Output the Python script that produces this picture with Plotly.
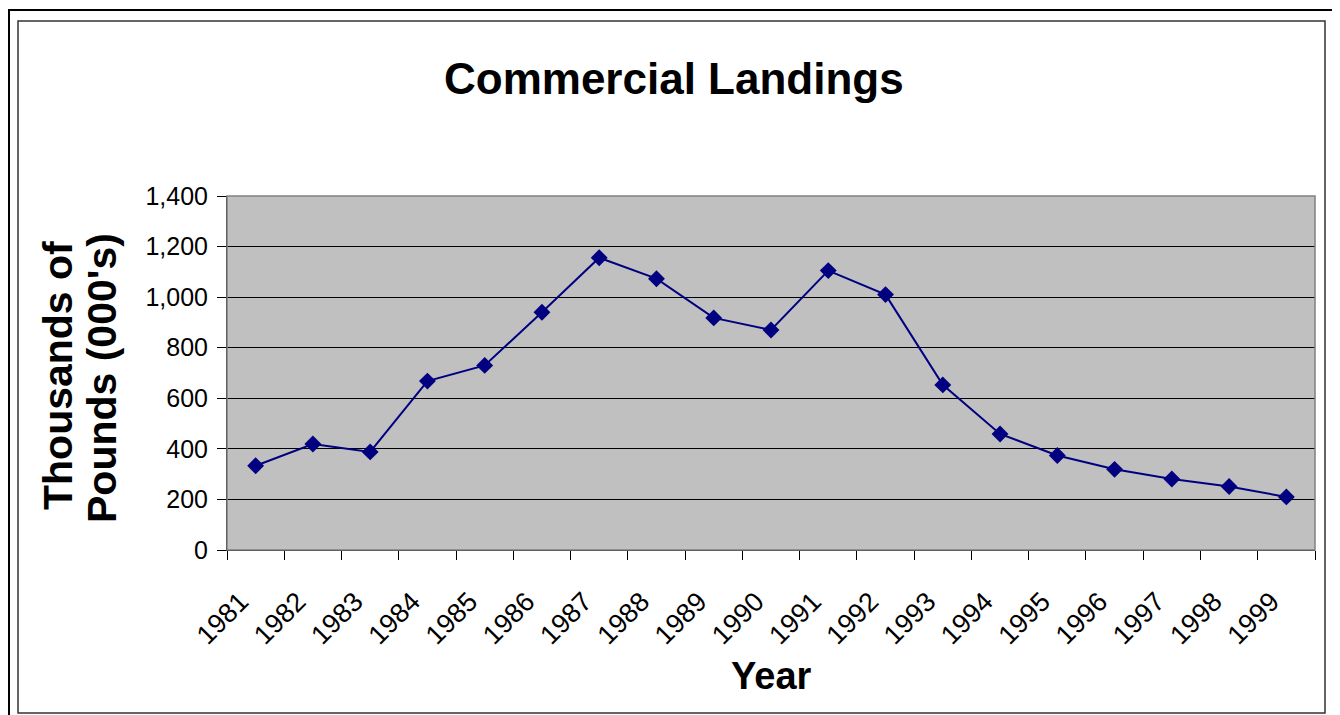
import plotly.graph_objects as go

years = [str(y) for y in range(1981, 2000)]
landings = [333, 419, 388, 668, 730, 940, 1156, 1073, 918, 870,
            1105, 1010, 653, 459, 374, 319, 281, 251, 210]
y_ticks = [0, 200, 400, 600, 800, 1000, 1200, 1400]
y_ticktext = ["0", "200", "400", "600", "800", "1,000", "1,200", "1,400"]

OFF = 8  # page body margin in the browser
W, H = 1340 - OFF, 715 - OFF
PL, PR, PT, PB = 227 - OFF, 1315 - OFF, 196 - OFF, 550 - OFF  # plot area in figure pixels


def px(x):
    """screen x pixel -> paper coordinate"""
    return (x - OFF - PL) / (PR - PL)


def py(y):
    """screen y pixel -> paper coordinate"""
    return (PB - (y - OFF)) / (PB - PT)


FONT = "Arial, Liberation Sans, sans-serif"

fig = go.Figure()
fig.add_trace(go.Scatter(
    x=years, y=landings, mode="lines+markers",
    line=dict(color="#000080", width=2),
    marker=dict(symbol="diamond", size=13, color="#000080"),
    showlegend=False, hoverinfo="x+y",
))

fig.update_layout(
    width=W, height=H,
    margin=dict(l=PL, r=W - PR, t=PT, b=H - PB, autoexpand=False),
    paper_bgcolor="white",
    plot_bgcolor="#C0C0C0",
    font=dict(family=FONT, color="black"),
    xaxis=dict(
        type="category", tickson="boundaries", ticks="outside", ticklen=9,
        tickcolor="black", tickwidth=1, tickangle=-45,
        tickfont=dict(size=27, family=FONT),
        showline=True, linecolor="black", linewidth=1,
        showgrid=False, zeroline=False,
        range=[-0.5, len(years) - 0.5],
        ticklabelstandoff=24, ticklabelshift=-15,
    ),
    yaxis=dict(
        range=[0, 1400], tickvals=y_ticks, ticktext=y_ticktext,
        ticks="outside", ticklen=9, tickcolor="black", tickwidth=1,
        tickfont=dict(size=25, family=FONT),
        showline=True, linecolor="black", linewidth=1,
        showgrid=True, gridcolor="black", gridwidth=1,
        zeroline=False, ticklabelstandoff=4,
    ),
    shapes=[
        dict(type="rect", xref="paper", yref="paper", x0=0, x1=1, y0=0, y1=1,
             line=dict(color="#808080", width=1.5), layer="above"),
        dict(type="rect", xref="paper", yref="paper",
             x0=px(9), x1=px(1335), y0=py(724), y1=py(10),
             line=dict(color="black", width=2)),
        dict(type="rect", xref="paper", yref="paper",
             x0=px(18), x1=px(1325), y0=py(713), y1=py(21),
             line=dict(color="#333333", width=1.5)),
    ],
    annotations=[
        dict(text="<b>Commercial Landings</b>", xref="paper", yref="paper",
             x=px(674), y=py(78), xanchor="center", yanchor="middle",
             showarrow=False, font=dict(size=44, family=FONT)),
        dict(text="<b>Thousands of</b>", xref="paper", yref="paper",
             x=px(58), y=py(376), xanchor="center", yanchor="middle",
             textangle=-90, showarrow=False, font=dict(size=41, family=FONT)),
        dict(text="<b>Pounds (000's)</b>", xref="paper", yref="paper",
             x=px(102), y=py(378), xanchor="center", yanchor="middle",
             textangle=-90, showarrow=False, font=dict(size=41, family=FONT)),
        dict(text="<b>Year</b>", xref="paper", yref="paper",
             x=px(771), y=py(676), xanchor="center", yanchor="middle",
             showarrow=False, font=dict(size=38, family=FONT)),
    ],
)

fig.write_html("out.html", config={"displayModeBar": False})
